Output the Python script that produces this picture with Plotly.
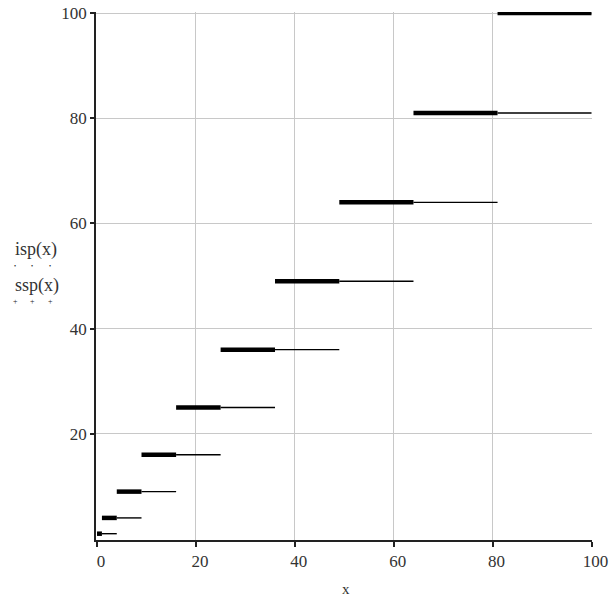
import plotly.graph_objects as go

# Data: perfect squares (step levels)
squares = [1, 4, 9, 16, 25, 36, 49, 64, 81, 100]
x_ticks = [0, 20, 40, 60, 80, 100]
y_ticks = [20, 40, 60, 80, 100]

# isp(x): level n^2 on [(n-1)^2, n^2]  (thick)
isp_x, isp_y = [], []
prev = 0
for s in squares:
    isp_x += [prev, s, None]
    isp_y += [s, s, None]
    prev = s

# ssp(x): level n^2 on [n^2, (n+1)^2]  (thin), clipped to 100
ssp_x, ssp_y = [], []
for i, s in enumerate(squares[:-1]):
    nxt = squares[i + 1]
    ssp_x += [s, nxt, None]
    ssp_y += [s, s, None]

fig = go.Figure()
fig.add_trace(go.Scatter(x=ssp_x, y=ssp_y, mode="lines",
                         line=dict(color="#000000", width=1.4), hoverinfo="skip"))
fig.add_trace(go.Scatter(x=isp_x, y=isp_y, mode="lines",
                         line=dict(color="#000000", width=4.5), hoverinfo="skip"))

FAM = "Liberation Serif, Times New Roman, serif"
tick_font = dict(family=FAM, size=17, color="#333333")
lab_font = dict(family=FAM, size=18, color="#333333")

L, R, T, B = 96, 18, 12, 59
W, H = 610, 599
pw, ph = W - L - R, H - T - B


def px_x(p):
    return (p - L) / pw


def px_y(p):
    return (H - B - p) / ph


annotations = [
    dict(text="x", xref="paper", yref="paper", x=px_x(346), y=px_y(589),
         showarrow=False, font=dict(family=FAM, size=15, color="#333333"),
         xanchor="center", yanchor="middle"),
    dict(text="isp(x)", xref="paper", yref="paper", x=px_x(13), y=px_y(249),
         showarrow=False, font=lab_font, xanchor="left", yanchor="middle"),
    dict(text="ssp(x)", xref="paper", yref="paper", x=px_x(13), y=px_y(285),
         showarrow=False, font=lab_font, xanchor="left", yanchor="middle"),
]
# line-style indicator marks under the axis labels
for mx in [15, 32, 50]:
    annotations.append(dict(text="•", xref="paper", yref="paper", x=px_x(mx), y=px_y(266),
                            showarrow=False, font=dict(family=FAM, size=6, color="#222222"),
                            xanchor="center", yanchor="middle"))
    annotations.append(dict(text="+", xref="paper", yref="paper", x=px_x(mx), y=px_y(301),
                            showarrow=False, font=dict(family=FAM, size=8, color="#222222"),
                            xanchor="center", yanchor="middle"))

fig.update_layout(
    width=W, height=H,
    margin=dict(l=L, r=R, t=T, b=B, autoexpand=False),
    paper_bgcolor="white", plot_bgcolor="white",
    showlegend=False,
    font=tick_font,
    xaxis=dict(range=[-0.2, 100.1], tickvals=x_ticks, showgrid=True,
               gridcolor="#c8c8c8", gridwidth=1, zeroline=False,
               showline=True, linecolor="#222222", linewidth=1.5,
               ticks="outside", ticklen=5, tickcolor="#222222", tickwidth=1.5,
               tickfont=tick_font, automargin=False, ticklabelshift=4),
    yaxis=dict(range=[-0.2, 100.2], tickvals=y_ticks, showgrid=True,
               gridcolor="#c8c8c8", gridwidth=1, zeroline=False,
               showline=True, linecolor="#222222", linewidth=1.5,
               ticks="outside", ticklen=4, tickcolor="#222222", tickwidth=1.5,
               tickfont=tick_font, automargin=False),
    annotations=annotations,
)

fig.write_html("out.html")
